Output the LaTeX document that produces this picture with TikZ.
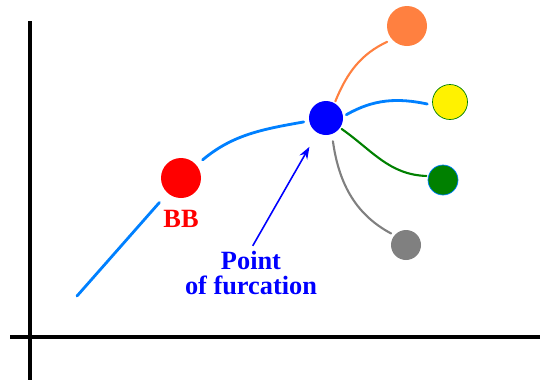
\documentclass[tikz,border=0pt]{standalone}
\usepackage{fontspec}
\setmainfont{Liberation Serif}
\usepackage{xcolor}
\usetikzlibrary{arrows, arrows.meta, positioning}
\definecolor{azul}{RGB}{0,128,255}
\definecolor{laranja}{RGB}{255,128,64}
\definecolor{verdeesc}{RGB}{0,128,0}
\definecolor{cinza}{RGB}{128,128,128}

\begin{document}
\begin{tikzpicture}[x=0.02cm, y=-0.02cm, node distance=2mm]
    % Unidades em pixels da figura original (y para baixo), para que as
    % posições das bolas se leiam diretamente do desenho de partida.
    \tikzstyle{bola} = [circle, inner sep=0pt, minimum size=6mm]
    \tikzstyle{eixo} = [line width=2.3pt]
    \tikzstyle{tronco} = [line width=1.6pt, azul, line cap=round]
    \tikzstyle{ramo} = [line width=1.2pt, line cap=round]
    \tikzstyle{rotulo} = [font=\fontsize{15}{14.5}\selectfont\bfseries,
        align=center, inner sep=1pt]
    \tikzstyle{arrow} = [line width=0.9pt, blue, -{Stealth[length=7pt, width=5pt]}]

    \useasboundingbox (0,0) rectangle (540,380);

    \draw [eixo] (30,21) -- (30,380);
    \draw [eixo] (10,337) -- (540,337);

    \node (bb) [bola, fill=red, minimum size=8mm] at (181,178) {};
    \node (fur) [bola, fill=blue, minimum size=6.8mm] at (326,118) {};
    \node (lar) [bola, fill=laranja, minimum size=8mm] at (407,26) {};
    \node (ama) [bola, fill=yellow, draw=verdeesc, thin, minimum size=7mm] at (450,102) {};
    \node (ver) [bola, fill=verdeesc, draw=azul, thin, minimum size=6mm] at (443,180) {};
    \node (cin) [bola, fill=cinza, minimum size=6mm] at (406,245) {};

    \node (bbtxt) [rotulo, red, below=2mm of bb] {BB};
    \node (furtxt) [rotulo, blue] at (251,273) {Point\\of furcation};

    \coordinate (inicio) at (77,296);

    % tronco principal: as pontas ficam afastadas das bolas
    \draw [tronco, shorten >=7pt] (inicio) -- (bb);
    \draw [tronco, shorten <=4.5pt, shorten >=3pt] (bb) to[out=40, in=190] (fur);

    % ramos depois da furcação
    \draw [ramo, laranja, shorten <=1pt, shorten >=3pt] (fur.60) to[out=68, in=205] (lar.222);
    \draw [ramo, azul, line width=1.6pt, shorten <=2pt, shorten >=3pt] (fur.5) to[out=30, in=168] (ama.190);
    \draw [ramo, verdeesc, shorten <=1pt, shorten >=1pt] (fur.-35) to[out=-35, in=178] (ver.165);
    \draw [ramo, cinza, shorten <=4pt, shorten >=2pt] (fur.-70) to[out=-82, in=152] (cin.140);

    \draw [arrow, shorten <=2pt, shorten >=9pt] (furtxt.north) -- (fur.240);
\end{tikzpicture}
\end{document}
